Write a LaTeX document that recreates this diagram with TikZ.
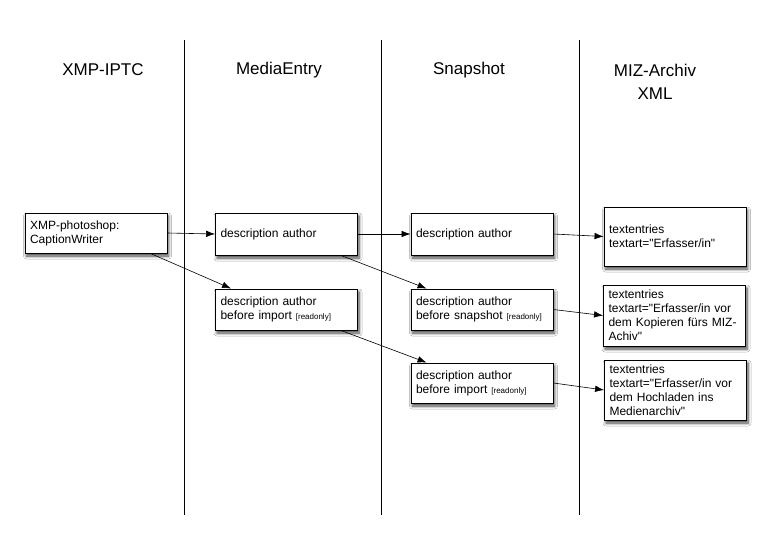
\documentclass[tikz,border=0pt]{standalone}
\usepackage{fontspec}
\setmainfont{Liberation Sans}[Ligatures=TeXOff]
\usetikzlibrary{arrows.meta,shadows.blur}
\hyphenpenalty=10000
\begin{document}
\begin{tikzpicture}[x=1pt,y=-1pt,
  hdr/.style={font=\fontsize{17}{23}\selectfont, align=center},
  box/.style={draw, line width=0.9pt, fill=white, rectangle, inner xsep=5pt, inner ysep=2pt,
    minimum width=142pt, text width=132pt, align=left,
    font=\fontsize{12}{14}\selectfont,
    blur shadow={shadow xshift=1.5pt, shadow yshift=-3pt, shadow blur steps=6, shadow blur radius=3pt, shadow opacity=75}},
  conn/.style={line width=0.6pt, -{Latex[length=9pt,width=6.5pt]}},
  lane/.style={line width=0.8pt}]
\useasboundingbox (0,0) rectangle (783,559);
\fill[white] (0,0) rectangle (783,559);
% lanes
\coordinate (l1t) at (184,40); \coordinate (l1b) at (184,515);
\coordinate (l2t) at (381,40); \coordinate (l2b) at (381,515);
\coordinate (l3t) at (579,40); \coordinate (l3b) at (579,515);
\draw[lane] (l1t) -- (l1b);
\draw[lane] (l2t) -- (l2b);
\draw[lane] (l3t) -- (l3b);
% headers
\node[hdr] (h1) at (103,70) {XMP-IPTC};
\node[hdr] (h2) at (279,70) {MediaEntry};
\node[hdr] (h3) at (469,70) {Snapshot};
\node[hdr] (h4) at (655,81.5) {MIZ-Archiv\\XML};
% boxes
\newcommand{\ro}{{\fontsize{8}{10}\selectfont[readonly]}}
\node[box, minimum height=40pt] (A) at (96,233) {XMP-photoshop:\\CaptionWriter};
\node[box, minimum height=42pt] (B) at (286.5,234) {description author};
\node[box, minimum height=41pt] (C) at (286.5,309.5) {description author\\before import \ro};
\node[box, minimum height=42pt] (D) at (482,234) {description author};
\node[box, minimum height=41pt] (E) at (482,309.5) {description author\\before snapshot \ro};
\node[box, minimum height=40pt] (F) at (482,383) {description author\\before import \ro};
\node[box, minimum height=59pt] (G) at (675,236.5) {textentries\\textart="Erfasser/in"};
\node[box, minimum height=61pt] (H) at (674.5,315.5) {textentries\\textart="Erfasser/in vor dem Kopieren fürs MIZ-Achiv"};
\node[box, minimum height=60pt] (I) at (675.5,390) {textentries\\textart="Erfasser/in vor dem Hochladen ins Medienarchiv"};
% connectors
\draw[conn] (A.east) -- (B.west);
\draw[conn] ([xshift=-17pt]A.south east) -- ([xshift=16pt]C.north west);
\draw[conn] (B.east) -- (D.west);
\draw[conn] ([xshift=-17pt]B.south east) -- ([xshift=16pt]E.north west);
\draw[conn] ([xshift=-17pt]C.south east) -- ([xshift=16pt]F.north west);
\draw[conn] (D.east) -- (G.west);
\draw[conn] (E.east) -- (H.west);
\draw[conn] (F.east) -- (I.west);
\end{tikzpicture}
\end{document}
